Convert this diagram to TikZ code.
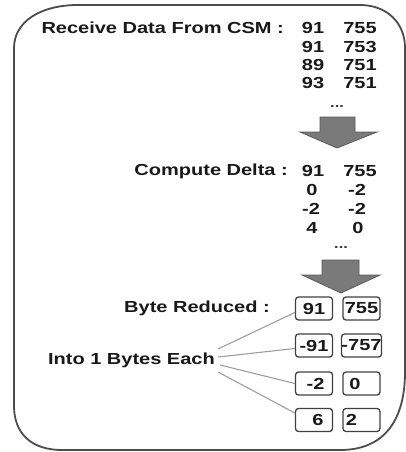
\documentclass[tikz,border=0pt]{standalone}
\usepackage{fontspec}
\setmainfont{Liberation Sans}[FakeStretch=1.25]
\usetikzlibrary{calc}
\begin{document}
\begin{tikzpicture}[x=1pt,y=-1pt,
  txt/.style={font=\fontsize{16}{18}\selectfont\bfseries, inner sep=0pt, text=black!90},
  num/.style={txt, anchor=center},
  dotsty/.style={font=\fontsize{13}{15}\selectfont\bfseries, inner sep=0pt, text=black!80, anchor=center},
  cell/.style={txt, draw=black!75, line width=1.3pt, rounded corners=3pt,
    minimum width=37pt, minimum height=23pt, anchor=center},
  blockarrow/.style={fill=black!52, draw=black!65, line width=0.8pt},
  link/.style={draw=black!38, line width=1.1pt},
  frame/.style={draw=black!70, line width=1.8pt}]
\useasboundingbox (0,0) rectangle (406,452);
% outer frame
\draw[frame] (14,230) -- (14,48) .. controls (14,22) and (40,5) .. (78,5)
  -- (360,5) .. controls (386,5) and (405,22) .. (405,48)
  -- (405,372) .. controls (405,418) and (386,450) .. (340,450)
  -- (62,450) .. controls (32,450) and (14,434) .. (14,406) -- cycle;
% first block
\node[txt, anchor=east] (recv) at (284,28) {Receive Data From CSM :};
\node[num] (r11) at (313,28) {91};  \node[num] (r12) at (360,28) {755};
\node[num] (r21) at (313,47) {91};  \node[num] (r22) at (360,47) {753};
\node[num] (r31) at (313,65) {89};  \node[num] (r32) at (360,65) {751};
\node[num] (r41) at (313,83) {93};  \node[num] (r42) at (360,83) {751};
\node[dotsty] (dots1) at (337,107) {...};
\draw[blockarrow] (320,117) -- (355,117) -- (355,132) -- (377,132) -- (337,148)
  -- (300,132) -- (320,132) -- cycle;
% second block
\node[txt, anchor=east] (delta) at (288,171) {Compute Delta :};
\node[num] (d11) at (313,171) {91}; \node[num] (d12) at (360,171) {755};
\node[num] (d21) at (312,190) {0};  \node[num] (d22) at (357,190) {-2};
\node[num] (d31) at (311,209) {-2}; \node[num] (d32) at (357,209) {-2};
\node[num] (d41) at (312,228) {4};  \node[num] (d42) at (358,228) {0};
\node[dotsty] (dots2) at (341,248) {...};
\draw[blockarrow] (322,260) -- (359,260) -- (359,275) -- (380,275) -- (341,293)
  -- (302,275) -- (322,275) -- cycle;
% third block
\node[txt, anchor=east] (byte) at (270,308) {Byte Reduced :};
\node[txt, anchor=east] (into) at (215,360) {Into 1 Bytes Each};
\node[cell] (b11) at (314,308.5) {91};
\node[cell] (b12) at (361.5,308.5) {755};
\node[cell] (b21) at (314,345.5) {-91};
\node[cell] (b22) at (361.5,345.5) {-757};
\node[cell] (b31) at (314,383.5) {\hspace*{3pt}-2};
\node[cell] (b32) at (361.5,383.5) {0\hspace*{13pt}};
\node[cell] (b41) at (314,420) {\hspace*{8pt}6};
\node[cell] (b42) at (361.5,420) {2\hspace*{20pt}};
\draw[link] ($(into.east)+(3,-11)$) -- ($(b11.west)+(0,4)$);
\draw[link] ($(into.east)+(3,-3)$) -- ($(b21.west)+(0,3)$);
\draw[link] ($(into.east)+(5,5)$) -- ($(b31.west)+(0,0)$);
\draw[link] ($(into.east)+(3,12)$) -- ($(b41.west)+(0,-7)$);
\end{tikzpicture}
\end{document}
